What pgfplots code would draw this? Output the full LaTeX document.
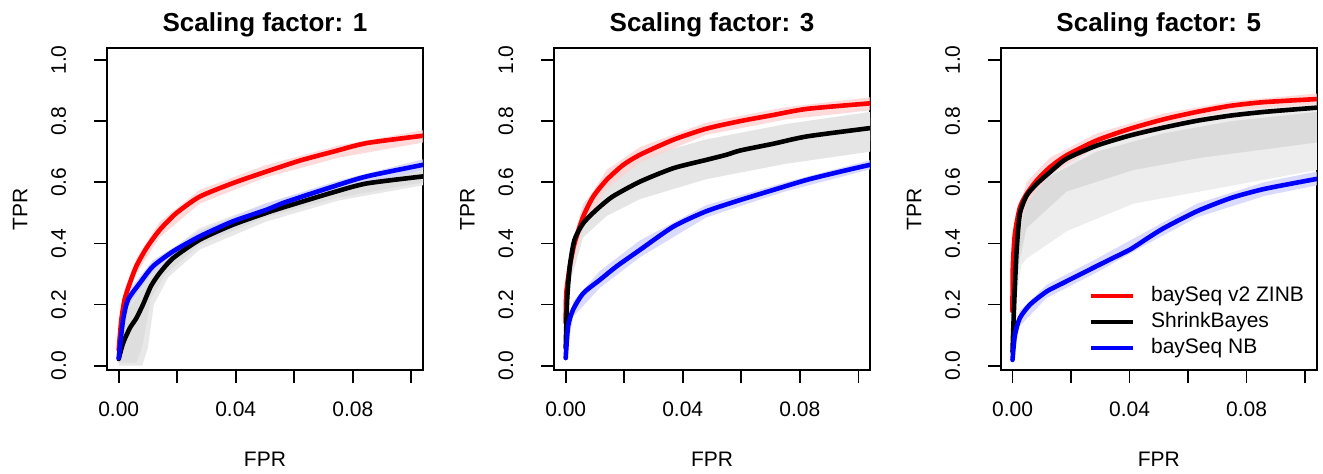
\documentclass[border=0pt]{standalone}
\usepackage{fontspec}
\setmainfont{Liberation Sans}
\usepackage{pgfplots}
\pgfplotsset{compat=1.18}

\definecolor{zinb}{RGB}{255,0,0}
\definecolor{nb}{RGB}{0,0,255}

\pgfplotsset{
  rocpanel/.style={
    scale only axis, width=158pt, height=161pt,
    anchor=south west,
    xmin=-0.004, xmax=0.104, ymin=-0.014, ymax=1.039,
    axis line style={line width=0.8pt},
    tick align=outside, xtick pos=bottom, ytick pos=left,
    major tick length=6.5pt,
    tick style={line width=0.8pt, black},
    xtick={0,0.02,0.04,0.06,0.08,0.1},
    xticklabels={0.00,,0.04,,0.08,},
    ytick={0,0.2,0.4,0.6,0.8,1},
    yticklabels={0.0,0.2,0.4,0.6,0.8,1.0},
    ticklabel style={font=\fontsize{10.5}{12}\selectfont},
    xticklabel style={anchor=base, yshift=-16.5pt},
    yticklabel style={rotate=90, anchor=base, yshift=14pt},
    every axis title shift=0pt,
    title style={font=\bfseries\fontsize{13}{15}\selectfont, at={(0.5,1)}, anchor=base, yshift=8.2pt},
    label style={font=\fontsize{10.5}{12}\selectfont},
    xlabel={FPR}, ylabel={TPR},
    xlabel style={at={(axis description cs:0.5,0)}, anchor=base, yshift=-48pt},
    ylabel style={at={([xshift=-39.75pt]axis description cs:0,0.5)}, anchor=base},
  },
  curve/.style={line width=2.3pt, line join=round, line cap=round, smooth, tension=0.4},
  band/.style={draw=none, fill=#1, forget plot},
}

\begin{document}
\begin{tikzpicture}
\useasboundingbox (0,0) rectangle (661.5pt,236.5pt);

% ---- scaling factor 1
\begin{axis}[rocpanel, at={(53.5pt,51.5pt)}, title={Scaling factor: 1}]
\addplot[band={black!9}] coordinates {
  (0,0.05) (0.003,0.21) (0.008,0.29) (0.014,0.35) (0.0277,0.45) (0.05,0.53) (0.075,0.60) (0.104,0.65)
  (0.104,0.59) (0.075,0.54) (0.05,0.47) (0.0277,0.38) (0.017,0.29) (0.012,0.2) (0.010,0.06) (0.008,0.0) (0,0.0)} -- cycle;
\addplot[band={black!13}] coordinates {
  (0,0.04) (0.003,0.18) (0.008,0.25) (0.014,0.33) (0.0277,0.43) (0.05,0.515) (0.075,0.585) (0.104,0.635)
  (0.104,0.60) (0.075,0.55) (0.05,0.485) (0.0277,0.395) (0.016,0.30) (0.011,0.22) (0.008,0.06) (0.006,0.01) (0,0.01)} -- cycle;
\addplot[band={zinb!18}, fill opacity=0.8] coordinates {
  (0,0.07) (0.002,0.25) (0.006,0.35) (0.014,0.47) (0.0277,0.575) (0.05,0.655) (0.075,0.72) (0.104,0.77)
  (0.104,0.73) (0.075,0.68) (0.05,0.615) (0.0277,0.53) (0.014,0.42) (0.006,0.30) (0.002,0.19) (0,0.04)} -- cycle;
\addplot[band={nb!18}, fill opacity=0.8] coordinates {
  (0,0.04) (0.003,0.24) (0.0117,0.345) (0.0277,0.44) (0.05,0.53) (0.075,0.605) (0.104,0.675)
  (0.104,0.64) (0.075,0.57) (0.05,0.495) (0.0277,0.405) (0.0117,0.305) (0.003,0.19) (0,0.02)} -- cycle;
\addplot[curve, zinb] coordinates {
  (0,0.052) (0.0009,0.15) (0.002,0.216) (0.0038,0.27) (0.006,0.325) (0.0095,0.385) (0.014,0.444)
  (0.0197,0.499) (0.0277,0.553) (0.039,0.597) (0.0505,0.635) (0.062,0.671) (0.0733,0.70) (0.0847,0.728) (0.104,0.752)};
\addplot[curve, black] coordinates {
  (0,0.022) (0.0015,0.074) (0.0038,0.123) (0.006,0.155) (0.0083,0.2) (0.011,0.26) (0.014,0.303)
  (0.0186,0.352) (0.0277,0.412) (0.039,0.461) (0.0505,0.50) (0.057,0.52) (0.0733,0.567) (0.0847,0.596) (0.104,0.619)};
\addplot[curve, nb] coordinates {
  (0,0.025) (0.0015,0.15) (0.0032,0.216) (0.0072,0.27) (0.0117,0.325) (0.0186,0.374) (0.0277,0.423)
  (0.039,0.472) (0.0505,0.51) (0.057,0.535) (0.0733,0.586) (0.0847,0.619) (0.104,0.657)};
\end{axis}

% ---- scaling factor 3
\begin{axis}[rocpanel, at={(277pt,51.5pt)}, title={Scaling factor: 3}]
\addplot[band={black!10}] coordinates {
  (0,0.1) (0.0014,0.38) (0.006,0.53) (0.014,0.62) (0.0254,0.68) (0.048,0.74) (0.075,0.79) (0.104,0.83)
  (0.104,0.70) (0.075,0.66) (0.048,0.61) (0.0254,0.545) (0.014,0.49) (0.006,0.42) (0.0014,0.27) (0,0.04)} -- cycle;
\addplot[band={black!10}] coordinates {
  (0,0.08) (0.0014,0.35) (0.006,0.50) (0.014,0.59) (0.0254,0.655) (0.048,0.715) (0.075,0.77) (0.104,0.81)
  (0.104,0.735) (0.075,0.69) (0.048,0.635) (0.0254,0.57) (0.014,0.515) (0.006,0.44) (0.0014,0.29) (0,0.05)} -- cycle;
\addplot[band={zinb!18}, fill opacity=0.8] coordinates {
  (0,0.16) (0.0014,0.36) (0.006,0.52) (0.014,0.64) (0.0254,0.715) (0.048,0.795) (0.075,0.845) (0.104,0.878)
  (0.104,0.835) (0.075,0.805) (0.048,0.755) (0.0254,0.665) (0.014,0.58) (0.006,0.455) (0.0014,0.30) (0,0.12)} -- cycle;
\addplot[band={nb!18}, fill opacity=0.8] coordinates {
  (0,0.04) (0.0025,0.21) (0.0117,0.31) (0.0254,0.41) (0.048,0.525) (0.075,0.6) (0.104,0.672)
  (0.104,0.642) (0.075,0.57) (0.048,0.485) (0.0254,0.355) (0.0117,0.255) (0.0025,0.16) (0,0.015)} -- cycle;
\addplot[curve, zinb] coordinates {
  (0,0.14) (0.0002,0.237) (0.0014,0.325) (0.003,0.40) (0.006,0.488) (0.0094,0.553) (0.014,0.608)
  (0.0197,0.657) (0.0254,0.69) (0.0368,0.739) (0.048,0.775) (0.0597,0.800) (0.071,0.82) (0.0825,0.840) (0.104,0.858)};
\addplot[curve, black] coordinates {
  (0,0.058) (0.0005,0.216) (0.0014,0.325) (0.003,0.412) (0.006,0.466) (0.0105,0.51) (0.016,0.553)
  (0.0254,0.602) (0.0368,0.646) (0.048,0.673) (0.055,0.69) (0.0597,0.704) (0.071,0.726) (0.0825,0.750) (0.104,0.777)};
\addplot[curve, nb] coordinates {
  (0,0.025) (0.0008,0.128) (0.0025,0.183) (0.006,0.237) (0.0117,0.281) (0.0174,0.325) (0.0254,0.379)
  (0.0368,0.455) (0.048,0.505) (0.0597,0.542) (0.071,0.575) (0.0825,0.608) (0.094,0.635) (0.104,0.657)};
\end{axis}

% ---- scaling factor 5
\begin{axis}[rocpanel, at={(500.4pt,51.5pt)}, title={Scaling factor: 5},
  legend style={at={(axis description cs:0.276,0.264)}, anchor=north west, draw=none, fill=none,
    inner sep=0pt, row sep=2.5pt, font=\fontsize{10.5}{12}\selectfont,
    nodes={inner sep=0pt, text height=8pt, text depth=2.5pt}},
  legend cell align=left,
  legend image code/.code={\draw[#1, line width=2.3pt] (0pt,0pt) -- (21pt,0pt); \path (30pt,0pt);},
]
\addplot[band={black!7}] coordinates {
  (0,0.06) (0.0014,0.4) (0.0048,0.575) (0.0128,0.65) (0.0288,0.735) (0.0517,0.795) (0.075,0.835) (0.104,0.855)
  (0.104,0.64) (0.0642,0.57) (0.0413,0.53) (0.0185,0.44) (0.0048,0.35) (0.003,0.33) (0.001,0.2) (0,0.04)} -- cycle;
\addplot[band={black!14}] coordinates {
  (0,0.05) (0.0014,0.37) (0.0048,0.55) (0.0128,0.62) (0.0288,0.70) (0.0517,0.76) (0.075,0.80) (0.104,0.83)
  (0.104,0.73) (0.0642,0.68) (0.0413,0.64) (0.0185,0.57) (0.0048,0.45) (0.0014,0.30) (0,0.04)} -- cycle;
\addplot[band={zinb!18}, fill opacity=0.8] coordinates {
  (0,0.2) (0.0008,0.47) (0.0048,0.60) (0.0128,0.68) (0.0288,0.76) (0.0517,0.825) (0.075,0.865) (0.104,0.89)
  (0.104,0.855) (0.075,0.835) (0.0517,0.79) (0.0288,0.715) (0.0128,0.625) (0.0048,0.53) (0.0008,0.40) (0,0.16)} -- cycle;
\addplot[band={nb!18}, fill opacity=0.8] coordinates {
  (0,0.03) (0.0025,0.18) (0.0117,0.265) (0.0288,0.35) (0.046,0.44) (0.063,0.53) (0.086,0.6) (0.104,0.635)
  (0.104,0.59) (0.086,0.555) (0.063,0.485) (0.046,0.398) (0.0288,0.305) (0.0117,0.222) (0.0025,0.13) (0,0.01)} -- cycle;
\addplot[curve, zinb, forget plot] coordinates {
  (0,0.178) (0.0001,0.32) (0.0008,0.43) (0.0025,0.517) (0.0048,0.561) (0.0082,0.605) (0.0128,0.649)
  (0.0185,0.688) (0.0288,0.737) (0.0402,0.775) (0.0517,0.806) (0.063,0.830) (0.0745,0.850) (0.086,0.862) (0.104,0.872)};
\addplot[curve, black, forget plot] coordinates {
  (0,0.046) (0.0006,0.21) (0.0014,0.375) (0.0025,0.496) (0.0048,0.556) (0.0082,0.594) (0.0128,0.633)
  (0.0185,0.677) (0.0288,0.72) (0.0402,0.753) (0.0517,0.779) (0.063,0.801) (0.0745,0.818) (0.086,0.830) (0.104,0.844)};
\addplot[curve, nb, forget plot] coordinates {
  (0,0.019) (0.0008,0.10) (0.0025,0.156) (0.006,0.20) (0.0117,0.243) (0.0174,0.271) (0.023,0.298)
  (0.0288,0.326) (0.0345,0.353) (0.0402,0.38) (0.046,0.416) (0.0517,0.450) (0.063,0.505) (0.0745,0.548)
  (0.086,0.578) (0.104,0.611)};
\addlegendimage{zinb}\addlegendentry{baySeq v2 ZINB}
\addlegendimage{black}\addlegendentry{ShrinkBayes}
\addlegendimage{nb}\addlegendentry{baySeq NB}
\end{axis}
\end{tikzpicture}
\end{document}
